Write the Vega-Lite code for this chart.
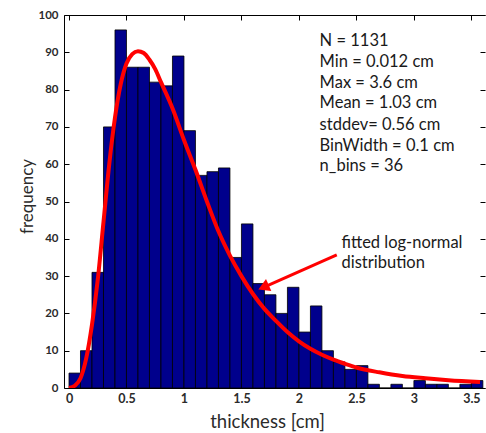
{
  "$schema": "https://vega.github.io/schema/vega-lite/v6.json",
  "width": 421,
  "height": 373,
  "autosize": "none",
  "padding": {"left": 64, "top": 15, "right": 1, "bottom": 45},
  "background": "white",
  "config": {"view": {"stroke": null}, "font": "Lato"},
  "datasets": {
    "bins": [
      {"start": 0.0, "end": 0.1, "count": 4},
      {"start": 0.1, "end": 0.2, "count": 10},
      {"start": 0.2, "end": 0.3, "count": 31},
      {"start": 0.3, "end": 0.4, "count": 70},
      {"start": 0.4, "end": 0.5, "count": 96},
      {"start": 0.5, "end": 0.6, "count": 86},
      {"start": 0.6, "end": 0.7, "count": 86},
      {"start": 0.7, "end": 0.8, "count": 82},
      {"start": 0.8, "end": 0.9, "count": 81},
      {"start": 0.9, "end": 1.0, "count": 89},
      {"start": 1.0, "end": 1.1, "count": 69},
      {"start": 1.1, "end": 1.2, "count": 57},
      {"start": 1.2, "end": 1.3, "count": 58},
      {"start": 1.3, "end": 1.4, "count": 59},
      {"start": 1.4, "end": 1.5, "count": 35},
      {"start": 1.5, "end": 1.6, "count": 44},
      {"start": 1.6, "end": 1.7, "count": 28},
      {"start": 1.7, "end": 1.8, "count": 25},
      {"start": 1.8, "end": 1.9, "count": 20},
      {"start": 1.9, "end": 2.0, "count": 27},
      {"start": 2.0, "end": 2.1, "count": 15},
      {"start": 2.1, "end": 2.2, "count": 22},
      {"start": 2.2, "end": 2.3, "count": 10},
      {"start": 2.3, "end": 2.4, "count": 7},
      {"start": 2.4, "end": 2.5, "count": 5},
      {"start": 2.5, "end": 2.6, "count": 6},
      {"start": 2.6, "end": 2.7, "count": 1},
      {"start": 2.7, "end": 2.8, "count": 0},
      {"start": 2.8, "end": 2.9, "count": 1},
      {"start": 2.9, "end": 3.0, "count": 0},
      {"start": 3.0, "end": 3.1, "count": 2},
      {"start": 3.1, "end": 3.2, "count": 1},
      {"start": 3.2, "end": 3.3, "count": 1},
      {"start": 3.3, "end": 3.4, "count": 0},
      {"start": 3.4, "end": 3.5, "count": 1},
      {"start": 3.5, "end": 3.6, "count": 2}
    ],
    "fit": [
      {"t": 0.0, "f": 0.0},
      {"t": 0.05, "f": 0.6},
      {"t": 0.1, "f": 2.6},
      {"t": 0.15, "f": 8},
      {"t": 0.2, "f": 17},
      {"t": 0.25, "f": 29},
      {"t": 0.3, "f": 44.5},
      {"t": 0.35, "f": 60},
      {"t": 0.4, "f": 72.5},
      {"t": 0.45, "f": 81.5},
      {"t": 0.5, "f": 87},
      {"t": 0.55, "f": 89.5},
      {"t": 0.6, "f": 90.3},
      {"t": 0.65, "f": 89.8},
      {"t": 0.7, "f": 88},
      {"t": 0.75, "f": 85.5},
      {"t": 0.8, "f": 82},
      {"t": 0.9, "f": 75},
      {"t": 1.0, "f": 66.5},
      {"t": 1.1, "f": 58.5},
      {"t": 1.2, "f": 50},
      {"t": 1.3, "f": 42},
      {"t": 1.4, "f": 35.5},
      {"t": 1.5, "f": 30},
      {"t": 1.6, "f": 25.2},
      {"t": 1.7, "f": 21.2},
      {"t": 1.8, "f": 18},
      {"t": 1.9, "f": 15},
      {"t": 2.0, "f": 12.5},
      {"t": 2.1, "f": 10.5},
      {"t": 2.2, "f": 8.9},
      {"t": 2.3, "f": 7.6},
      {"t": 2.4, "f": 6.5},
      {"t": 2.5, "f": 5.5},
      {"t": 2.7, "f": 4.2},
      {"t": 2.9, "f": 3.2},
      {"t": 3.1, "f": 2.6},
      {"t": 3.3, "f": 2.1},
      {"t": 3.575, "f": 1.6}
    ],
    "stats": [
      {"x": 2.18, "y": 93.1, "label": "N = 1131"},
      {"x": 2.18, "y": 87.5, "label": "Min = 0.012 cm"},
      {"x": 2.18, "y": 81.9, "label": "Max = 3.6 cm"},
      {"x": 2.18, "y": 76.4, "label": "Mean = 1.03 cm"},
      {"x": 2.18, "y": 70.6, "label": "stddev= 0.56 cm"},
      {"x": 2.18, "y": 64.9, "label": "BinWidth = 0.1 cm"},
      {"x": 2.18, "y": 59.5, "label": "n_bins = 36"}
    ],
    "annot": [
      {"x": 2.37, "y": 38.9, "label": "fitted log-normal"},
      {"x": 2.37, "y": 33.5, "label": "distribution"}
    ],
    "arrow": [
      {"x": 2.329, "y": 35.7},
      {"x": 1.692, "y": 27.0}
    ],
    "head": [
      {"x": 1.692, "y": 27.0}
    ]
  },
  "layer": [
    {
      "data": {"name": "bins"},
      "mark": {"type": "bar", "fill": "#00008c", "stroke": "#000000", "strokeWidth": 0.8, "clip": true, "orient": "vertical"},
      "encoding": {
        "x": {
          "field": "start", "type": "quantitative",
          "scale": {"domain": [0, 3.575], "nice": false, "zero": false},
          "axis": {
            "orient": "bottom", "values": [0, 0.5, 1, 1.5, 2, 2.5, 3, 3.5], "format": "~g",
            "tickSize": -5, "tickColor": "#000000", "domainColor": "#000000",
            "labelFontSize": 12.5, "labelColor": "#2b2b2b", "labelFontWeight": "bold", "labelPadding": 9, "labelFlush": false,
            "title": "thickness [cm]", "titleFontSize": 18.5, "titleFontWeight": "normal", "titleColor": "#2b2b2b",
            "titleX": 203, "titleY": 39, "titleBaseline": "alphabetic", "grid": false
          }
        },
        "x2": {"field": "end"},
        "y": {
          "field": "count", "type": "quantitative",
          "scale": {"domain": [0, 100], "nice": false},
          "axis": {
            "orient": "left", "values": [0, 10, 20, 30, 40, 50, 60, 70, 80, 90, 100],
            "tickSize": -5, "tickColor": "#000000", "domainColor": "#000000",
            "labelFontSize": 11.5, "labelColor": "#2b2b2b", "labelFontWeight": "bold", "labelPadding": 11, "labelFlush": false,
            "title": "frequency", "titleFontSize": 17, "titleFontWeight": "normal", "titleColor": "#2b2b2b",
            "titleX": -37, "titleY": 181, "titleBaseline": "middle", "grid": false
          }
        },
        "y2": {"datum": 0}
      }
    },
    {
      "data": {"name": "fit"},
      "mark": {"type": "line", "color": "#ff0000", "strokeWidth": 4, "interpolate": "monotone", "clip": true},
      "encoding": {
        "x": {
          "field": "t", "type": "quantitative",
          "scale": {"domain": [0, 3.575], "nice": false, "zero": false},
          "axis": {"orient": "top", "values": [0, 0.5, 1, 1.5, 2, 2.5, 3, 3.5], "labels": false, "title": null,
                   "tickSize": -5, "tickColor": "#000000", "domainColor": "#000000", "grid": false}
        },
        "y": {
          "field": "f", "type": "quantitative",
          "scale": {"domain": [0, 100], "nice": false},
          "axis": {"orient": "right", "values": [0, 10, 20, 30, 40, 50, 60, 70, 80, 90, 100], "labels": false, "title": null,
                   "tickSize": -5, "tickColor": "#000000", "domain": false, "grid": false}
        }
      }
    },
    {
      "data": {"name": "arrow"},
      "mark": {"type": "line", "color": "#ff0000", "strokeWidth": 3},
      "encoding": {
        "x": {"field": "x", "type": "quantitative", "scale": {"domain": [0, 3.575], "nice": false, "zero": false}, "axis": null},
        "y": {"field": "y", "type": "quantitative", "scale": {"domain": [0, 100], "nice": false}, "axis": null}
      }
    },
    {
      "data": {"name": "head"},
      "mark": {"type": "point", "shape": "triangle-up", "filled": true, "color": "#ff0000", "size": 170, "angle": 246, "opacity": 1},
      "encoding": {
        "x": {"field": "x", "type": "quantitative", "scale": {"domain": [0, 3.575], "nice": false, "zero": false}, "axis": null},
        "y": {"field": "y", "type": "quantitative", "scale": {"domain": [0, 100], "nice": false}, "axis": null}
      }
    },
    {
      "data": {"name": "stats"},
      "mark": {"type": "text", "align": "left", "baseline": "middle", "fontSize": 16.5, "color": "#1a1a1a"},
      "encoding": {
        "x": {"field": "x", "type": "quantitative", "scale": {"domain": [0, 3.575], "nice": false, "zero": false}, "axis": null},
        "y": {"field": "y", "type": "quantitative", "scale": {"domain": [0, 100], "nice": false}, "axis": null},
        "text": {"field": "label"}
      }
    },
    {
      "data": {"name": "annot"},
      "mark": {"type": "text", "align": "left", "baseline": "middle", "fontSize": 16.5, "color": "#1a1a1a"},
      "encoding": {
        "x": {"field": "x", "type": "quantitative", "scale": {"domain": [0, 3.575], "nice": false, "zero": false}, "axis": null},
        "y": {"field": "y", "type": "quantitative", "scale": {"domain": [0, 100], "nice": false}, "axis": null},
        "text": {"field": "label"}
      }
    }
  ],
  "resolve": {"axis": {"x": "independent", "y": "independent"}}
}
